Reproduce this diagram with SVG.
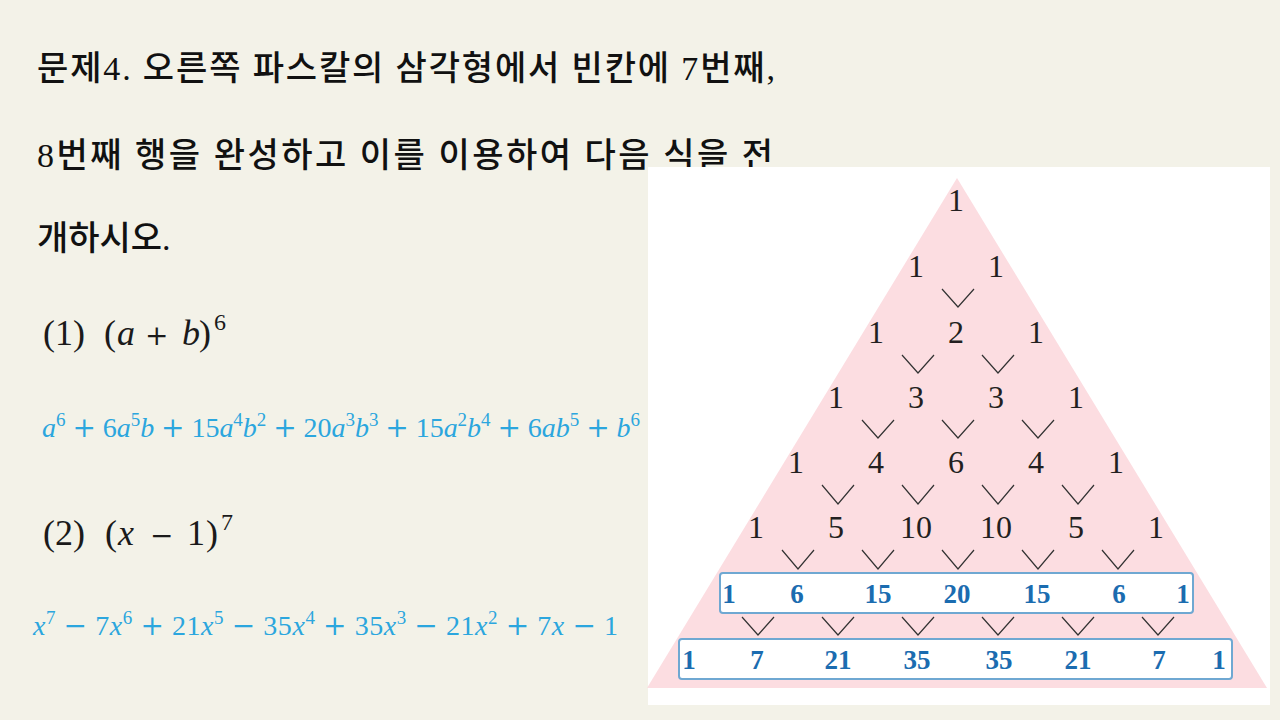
<svg xmlns="http://www.w3.org/2000/svg" width="1280" height="720" viewBox="0 0 1280 720">
<style>
.kr{font-family:"Liberation Serif","Noto Sans CJK KR",serif;font-size:34px;font-weight:500;fill:#111}
.m{font-family:"Liberation Serif","DejaVu Serif",serif;font-size:36px;fill:#1a1a1a}
.i{font-style:italic}
.op{font-family:"DejaVu Serif","Liberation Serif",serif}
.bl{font-family:"Liberation Serif","DejaVu Serif",serif;font-size:28px;fill:#2ba6de}
.sup{font-size:19px}
.n{font-family:"Liberation Serif","DejaVu Serif",serif;font-size:32px;fill:#231f20;text-anchor:middle}
.nb{font-family:"Liberation Serif","DejaVu Serif",serif;font-size:27px;font-weight:bold;fill:#1b6cb0;text-anchor:middle}
.box{fill:#ffffff;stroke:#6fa8d2;stroke-width:2}
.v{fill:none;stroke:#333;stroke-width:1.2}
</style>
<rect x="0" y="0" width="1280" height="720" fill="#f3f2e8"/>

<g id="title">
<text class="kr" x="37" y="80" textLength="738" lengthAdjust="spacing">문제4. 오른쪽 파스칼의 삼각형에서 빈칸에 7번째,</text>
<text class="kr" x="37" y="167" textLength="736" lengthAdjust="spacing">8번째 행을 완성하고 이를 이용하여 다음 식을 전</text>
<text class="kr" x="37" y="250">개하시오.</text>
</g>

<g id="problem1">
<text class="m" y="345"><tspan x="43">(1)</tspan><tspan x="104">(</tspan><tspan x="117" class="i">a</tspan><tspan x="145" class="op" font-size="28">+</tspan><tspan x="182" class="i">b</tspan><tspan x="199">)</tspan><tspan x="214" y="330" font-size="24">6</tspan></text>
<text class="bl" x="42" y="437" textLength="598" lengthAdjust="spacing"><tspan class="i">a</tspan><tspan class="sup" dy="-11">6</tspan><tspan dy="11"> </tspan><tspan class="op">+</tspan><tspan> 6</tspan><tspan class="i">a</tspan><tspan class="sup" dy="-11">5</tspan><tspan class="i" dy="11">b</tspan><tspan> </tspan><tspan class="op">+</tspan><tspan> 15</tspan><tspan class="i">a</tspan><tspan class="sup" dy="-11">4</tspan><tspan class="i" dy="11">b</tspan><tspan class="sup" dy="-11">2</tspan><tspan dy="11"> </tspan><tspan class="op">+</tspan><tspan> 20</tspan><tspan class="i">a</tspan><tspan class="sup" dy="-11">3</tspan><tspan class="i" dy="11">b</tspan><tspan class="sup" dy="-11">3</tspan><tspan dy="11"> </tspan><tspan class="op">+</tspan><tspan> 15</tspan><tspan class="i">a</tspan><tspan class="sup" dy="-11">2</tspan><tspan class="i" dy="11">b</tspan><tspan class="sup" dy="-11">4</tspan><tspan dy="11"> </tspan><tspan class="op">+</tspan><tspan> 6</tspan><tspan class="i">ab</tspan><tspan class="sup" dy="-11">5</tspan><tspan dy="11"> </tspan><tspan class="op">+</tspan><tspan> </tspan><tspan class="i">b</tspan><tspan class="sup" dy="-11">6</tspan></text>
</g>

<g id="problem2">
<text class="m" y="545"><tspan x="43">(2)</tspan><tspan x="105">(</tspan><tspan x="118" class="i">x</tspan><tspan x="150" class="op" font-size="28">−</tspan><tspan x="187">1</tspan><tspan x="206">)</tspan><tspan x="221" y="530" font-size="24">7</tspan></text>
<text class="bl" x="33" y="635" textLength="585" lengthAdjust="spacing"><tspan class="i">x</tspan><tspan class="sup" dy="-11">7</tspan><tspan dy="11"> </tspan><tspan class="op">−</tspan><tspan> 7</tspan><tspan class="i">x</tspan><tspan class="sup" dy="-11">6</tspan><tspan dy="11"> </tspan><tspan class="op">+</tspan><tspan> 21</tspan><tspan class="i">x</tspan><tspan class="sup" dy="-11">5</tspan><tspan dy="11"> </tspan><tspan class="op">−</tspan><tspan> 35</tspan><tspan class="i">x</tspan><tspan class="sup" dy="-11">4</tspan><tspan dy="11"> </tspan><tspan class="op">+</tspan><tspan> 35</tspan><tspan class="i">x</tspan><tspan class="sup" dy="-11">3</tspan><tspan dy="11"> </tspan><tspan class="op">−</tspan><tspan> 21</tspan><tspan class="i">x</tspan><tspan class="sup" dy="-11">2</tspan><tspan dy="11"> </tspan><tspan class="op">+</tspan><tspan> 7</tspan><tspan class="i">x</tspan><tspan> </tspan><tspan class="op">−</tspan><tspan> 1</tspan></text>
</g>

<g id="panel">
<rect x="648" y="167" width="622" height="538" fill="#ffffff"/>
<polygon points="957,178 647,688 1267,688" fill="#fcdde1"/>
</g>

<g id="connectors">
<polyline class="v" points="942,289 958,307 974,289"/>
<polyline class="v" points="902,355 918,373 934,355"/>
<polyline class="v" points="982,355 998,373 1014,355"/>
<polyline class="v" points="862,420 878,438 894,420"/>
<polyline class="v" points="942,420 958,438 974,420"/>
<polyline class="v" points="1022,420 1038,438 1054,420"/>
<polyline class="v" points="822,485 838,504 854,485"/>
<polyline class="v" points="902,485 918,504 934,485"/>
<polyline class="v" points="982,485 998,504 1014,485"/>
<polyline class="v" points="1062,485 1078,504 1094,485"/>
<polyline class="v" points="782,550 798,569 814,550"/>
<polyline class="v" points="862,550 878,569 894,550"/>
<polyline class="v" points="942,550 958,569 974,550"/>
<polyline class="v" points="1022,550 1038,569 1054,550"/>
<polyline class="v" points="1102,550 1118,569 1134,550"/>
<polyline class="v" points="742,617 758,635 774,617"/>
<polyline class="v" points="822,617 838,635 854,617"/>
<polyline class="v" points="902,617 918,635 934,617"/>
<polyline class="v" points="982,617 998,635 1014,617"/>
<polyline class="v" points="1062,617 1078,635 1094,617"/>
<polyline class="v" points="1142,617 1158,635 1174,617"/>
</g>

<g id="row0"><text class="n" x="956" y="211">1</text></g>
<g id="row1"><text class="n" x="916" y="277">1</text><text class="n" x="996" y="277">1</text></g>
<g id="row2"><text class="n" x="876" y="343">1</text><text class="n" x="956" y="343">2</text><text class="n" x="1036" y="343">1</text></g>
<g id="row3"><text class="n" x="836" y="408">1</text><text class="n" x="916" y="408">3</text><text class="n" x="996" y="408">3</text><text class="n" x="1076" y="408">1</text></g>
<g id="row4"><text class="n" x="796" y="473">1</text><text class="n" x="876" y="473">4</text><text class="n" x="956" y="473">6</text><text class="n" x="1036" y="473">4</text><text class="n" x="1116" y="473">1</text></g>
<g id="row5"><text class="n" x="756" y="538">1</text><text class="n" x="836" y="538">5</text><text class="n" x="916" y="538">10</text><text class="n" x="996" y="538">10</text><text class="n" x="1076" y="538">5</text><text class="n" x="1156" y="538">1</text></g>

<g id="row6">
<rect class="box" x="720" y="573" width="473" height="40" rx="3"/>
<text class="nb" x="729" y="603">1</text><text class="nb" x="797" y="603">6</text><text class="nb" x="878" y="603">15</text><text class="nb" x="957" y="603">20</text><text class="nb" x="1037" y="603">15</text><text class="nb" x="1119" y="603">6</text><text class="nb" x="1183" y="603">1</text>
</g>
<g id="row7">
<rect class="box" x="679" y="639" width="553" height="40" rx="3"/>
<text class="nb" x="689" y="669">1</text><text class="nb" x="757" y="669">7</text><text class="nb" x="838" y="669">21</text><text class="nb" x="917" y="669">35</text><text class="nb" x="999" y="669">35</text><text class="nb" x="1078" y="669">21</text><text class="nb" x="1159" y="669">7</text><text class="nb" x="1219" y="669">1</text>
</g>
</svg>
